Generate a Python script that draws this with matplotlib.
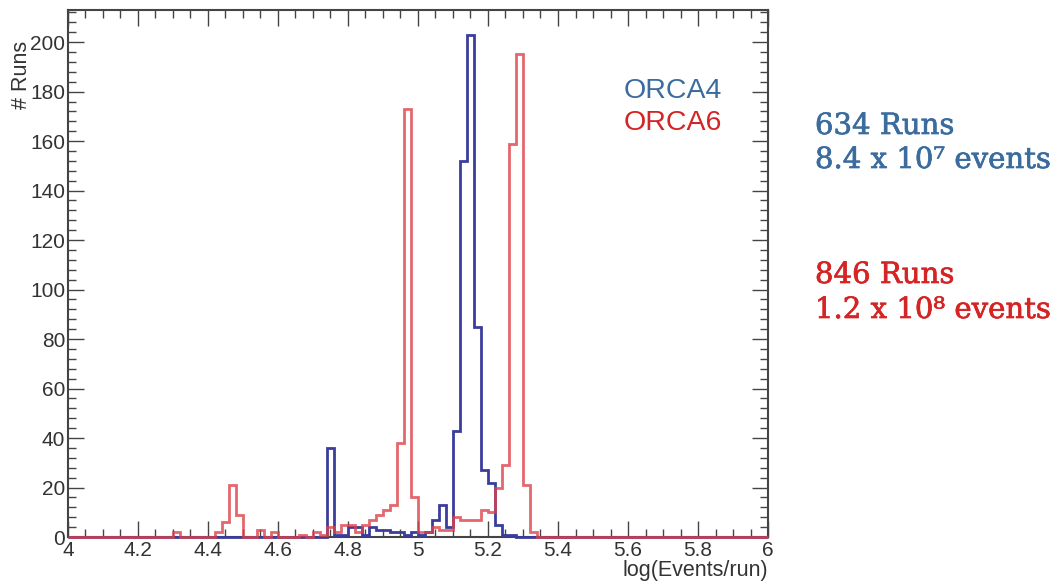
import numpy as np
import matplotlib.pyplot as plt
import matplotlib.patheffects as pe
from matplotlib.ticker import MultipleLocator

# Histogram binning: 100 bins of 0.02 between 4 and 6
edges = np.linspace(4.0, 6.0, 101)

# Runs per bin, ten bins per row (4.0-4.2, 4.2-4.4, ...)
orca4_runs = [
    0, 0, 0, 0, 0, 0, 0, 0, 0, 0,
    0, 0, 0, 0, 0, 0, 0, 0, 0, 0,
    0, 0, 0, 0, 0, 0, 0, 0, 0, 0,
    0, 0, 0, 0, 0, 0, 0, 36, 1, 1,
    4, 4, 1, 4, 3, 3, 2, 2, 1, 2,
    1, 2, 7, 13, 4, 43, 152, 203, 85, 27,
    22, 5, 1, 1, 0, 0, 0, 0, 0, 0,
    0, 0, 0, 0, 0, 0, 0, 0, 0, 0,
    0, 0, 0, 0, 0, 0, 0, 0, 0, 0,
    0, 0, 0, 0, 0, 0, 0, 0, 0, 0,
]

orca6_runs = [
    0, 0, 0, 0, 0, 0, 0, 0, 0, 0,
    0, 0, 0, 0, 0, 2, 0, 0, 0, 0,
    0, 2, 6, 21, 9, 0, 0, 3, 0, 2,
    0, 0, 0, 1, 0, 2, 1, 4, 2, 5,
    5, 2, 5, 7, 9, 11, 13, 38, 173, 16,
    2, 2, 4, 3, 3, 8, 7, 7, 7, 11,
    10, 20, 29, 159, 195, 21, 2, 0, 0, 0,
    0, 0, 0, 0, 0, 0, 0, 0, 0, 0,
    0, 0, 0, 0, 0, 0, 0, 0, 0, 0,
    0, 0, 0, 0, 0, 0, 0, 0, 0, 0,
]

labels = ["ORCA4", "ORCA6"]
summary = [("634 Runs", "8.4 x 10\u2077 events"), ("846 Runs", "1.2 x 10\u2078 events")]

blue_line = "#3a3d9c"
red_line = "#dc4148"
blue_text = "#3b6c9e"
red_text = "#d42424"

plt.rcParams["font.family"] = ["Liberation Sans", "DejaVu Sans"]

fig = plt.figure(figsize=(10.57, 5.85), dpi=100)
ax = fig.add_axes([0.0643, 0.082, 0.6623, 0.901])

ax.stairs(orca4_runs, edges, color=blue_line, lw=2, clip_on=False, zorder=3)
ax.stairs(orca6_runs, edges, color=red_line, lw=2, clip_on=False, zorder=4, alpha=0.8)

ax.set_xlim(4, 6)
ax.set_ylim(0, 213)

ax.xaxis.set_major_locator(MultipleLocator(0.2))
ax.xaxis.set_minor_locator(MultipleLocator(0.05))
ax.yaxis.set_major_locator(MultipleLocator(20))
ax.yaxis.set_minor_locator(MultipleLocator(4))
ax.xaxis.set_major_formatter(lambda v, pos: f"{v:g}")

ax.tick_params(which="both", direction="in", top=True, right=True,
               colors="#444444", labelcolor="#333333", labelsize=15)
ax.tick_params(which="major", length=11.5, width=1.0)
ax.tick_params(which="minor", length=5.8, width=1.0)
ax.tick_params(axis="y", pad=2)
ax.tick_params(axis="x", pad=3)

for sp in ax.spines.values():
    sp.set_color("#444444")
    sp.set_linewidth(1.5)

ax.set_xlabel("log(Events/run)", fontsize=15.5, color="#333333", loc="right", labelpad=0)
ax.set_ylabel("# Runs", fontsize=15.5, color="#333333")
ax.yaxis.set_label_coords(-0.052, 0.877)

# Legend written as coloured text
ax.text(0.934, 0.833, labels[0], transform=ax.transAxes, ha="right", va="baseline",
        fontsize=20.5, color=blue_text)
ax.text(0.934, 0.772, labels[1], transform=ax.transAxes, ha="right", va="baseline",
        fontsize=20.5, color=red_text)

# Run / event totals to the right of the plot
serif = ["DejaVu Serif"]
lines = [
    (summary[0][0], 134, blue_text),
    (summary[0][1], 168, blue_text),
    (summary[1][0], 283, red_text),
    (summary[1][1], 318, red_text),
]
for txt, ypix, col in lines:
    fig.text(0.771, 1 - ypix / 585, txt, color=col, fontsize=21, family=serif,
             va="baseline",
             path_effects=[pe.withStroke(linewidth=0.5, foreground=col)])

fig.savefig("out.png", dpi=100)
